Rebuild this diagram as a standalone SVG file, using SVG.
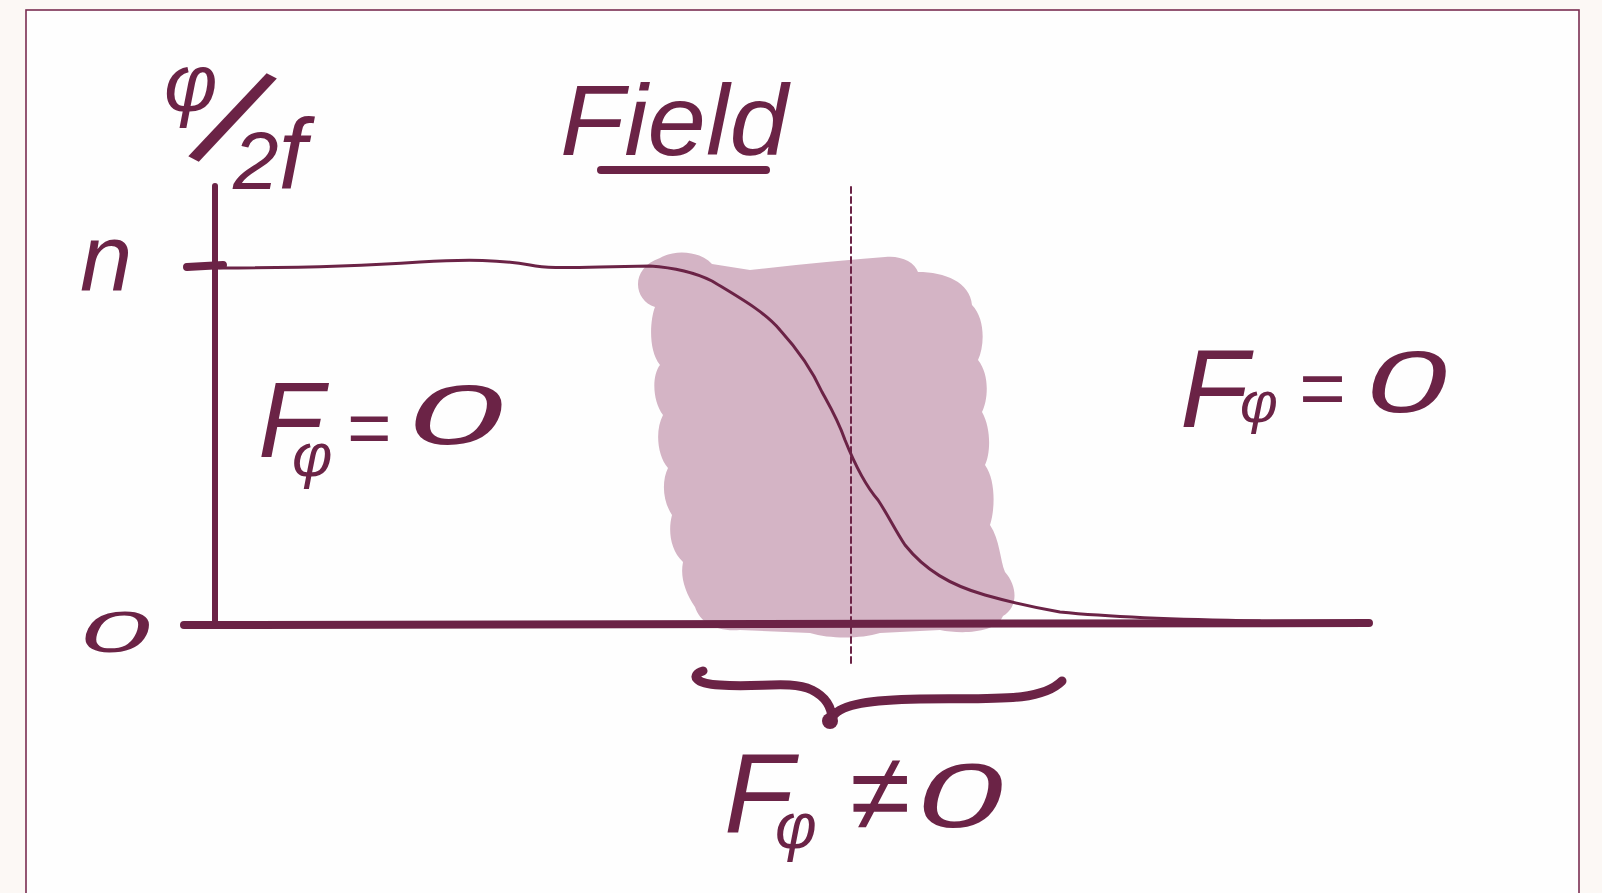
<svg xmlns="http://www.w3.org/2000/svg" width="1602" height="893" viewBox="0 0 1602 893">
<style>
.hw{font-family:"Liberation Sans","DejaVu Sans",sans-serif;font-style:italic;fill:#6b2346}
.ink{fill:none;stroke:#6b2346;stroke-linecap:round;stroke-linejoin:round}
</style>
<rect x="0" y="0" width="1602" height="893" fill="#fcf8f5"/>
<rect x="26" y="10" width="1553" height="900" fill="#fefefe" stroke="#7a2d52" stroke-width="1.6"/>
<g id="region">
<path fill="#d4b4c5" d="M 660,258 C 675,249 700,251 712,264 L 750,270 Q 820,262 885,257 C 900,255 915,262 918,272 C 945,272 970,282 972,305 C 985,318 985,345 978,360 C 990,375 988,400 982,412 C 992,430 990,455 985,465 C 996,480 995,510 990,525 C 1000,540 1000,560 1005,572 C 1018,587 1018,607 1003,616 C 995,634 960,634 940,630 L 880,633 C 860,639 830,639 810,633 L 740,630 C 715,632 700,622 695,607 C 685,592 680,577 683,562 C 670,550 668,530 672,515 C 662,500 662,480 668,468 C 657,455 655,430 663,415 C 652,400 652,375 660,365 C 648,350 650,320 655,307 C 633,300 630,268 660,258 Z"/>
</g>
<g id="connectors">
<line class="ink" x1="851" y1="187" x2="851" y2="664" stroke-width="2" stroke-dasharray="6 4" stroke-linecap="butt"/>
<path id="curve" class="ink" stroke-width="3" d="M 219,268 C 300,268 360,266 420,262 C 470,259 500,260 530,265 C 545,268 560,268 600,267 L 650,266 C 680,268 700,275 712,281 C 740,298 765,312 780,330 C 800,352 812,370 822,392 C 832,410 838,420 845,440 C 855,465 865,485 878,500 C 888,515 895,530 905,545 C 925,570 950,585 985,595 C 1010,602 1030,607 1060,612 C 1120,618 1200,620 1260,621"/>
<path id="brace" class="ink" stroke-width="9" d="M 703,671 C 690,675 695,684 720,685 C 760,688 790,680 812,690 C 828,698 832,710 832,720 M 833,716 C 842,704 870,700 920,699 C 990,698 1040,703 1062,681"/>
<circle cx="830" cy="721" r="8" fill="#6b2346"/>
</g>
<g id="axes">
<line class="ink" x1="215" y1="186" x2="215" y2="624" stroke-width="6"/>
<line class="ink" x1="184" y1="625" x2="1369" y2="623" stroke-width="8"/>
<line class="ink" x1="187" y1="267" x2="223" y2="265" stroke-width="8"/>
</g>
<g id="axis-labels">
<text class="hw" font-size="82"><tspan x="164" y="111">φ</tspan><tspan x="189" y="155" font-size="150" font-style="normal" rotate="28">/</tspan><tspan x="233" y="189" font-size="82">2</tspan><tspan font-size="100">f</tspan></text>
<text class="hw" x="80" y="291" font-size="94">n</text>
<text class="hw" x="80" y="652" font-size="58" textLength="70" lengthAdjust="spacingAndGlyphs">0</text>
</g>
<g id="title">
<text class="hw" x="560" y="155" font-size="101" textLength="228" lengthAdjust="spacingAndGlyphs">Field</text>
<line class="ink" x1="601" y1="170" x2="766" y2="170" stroke-width="8"/>
</g>
<g id="label-left">
<text class="hw" x="258" y="457" font-size="108">F<tspan x="292" y="476" font-size="62">φ</tspan><tspan x="346" y="454" font-size="76">=</tspan><tspan x="408" y="444" font-size="85" textLength="95" lengthAdjust="spacingAndGlyphs">0</tspan></text>
</g>
<g id="label-right">
<text class="hw" x="1180" y="427" font-size="112">F<tspan x="1240" y="422" font-size="58">φ</tspan><tspan x="1298" y="415" font-size="80">=</tspan><tspan x="1366" y="412" font-size="88" textLength="81" lengthAdjust="spacingAndGlyphs">0</tspan></text>
</g>
<g id="label-bottom">
<text class="hw" x="724" y="833" font-size="114">F<tspan x="775" y="848" font-size="64">φ</tspan><tspan x="850" y="830" font-size="110">≠</tspan><tspan x="917" y="827" font-size="90" textLength="86" lengthAdjust="spacingAndGlyphs">0</tspan></text>
</g>
</svg>
